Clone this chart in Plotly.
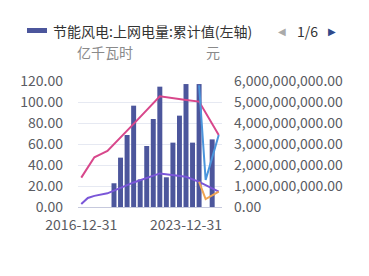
import plotly.graph_objects as go

dates = ["2016-12-31", "2017-12-31", "2018-12-31", "2019-12-31", "2020-12-31",
         "2021-03-31", "2021-06-30", "2021-09-30", "2021-12-31",
         "2022-03-31", "2022-06-30", "2022-09-30", "2022-12-31",
         "2023-03-31", "2023-06-30", "2023-09-30", "2023-12-31",
         "2024-06-30", "2024-12-31", "2025-03-31", "2025-06-30", "2025-09-30"]

# 上网电量 累计值 (亿千瓦时, left axis)
power = [None, None, None, None, None,
         22.6, 47.0, 68.6, 96.5,
         26.3, 58.1, 83.8, 114.6,
         28.3, 61.3, 87.0, 117.1,
         61.3, 117.1, None, 64.4, None]

# right-axis series (元)
revenue_annual = [1.40e9, 1.88e9, 2.37e9, 2.52e9, 2.67e9,
                  None, None, None, 3.96e9,
                  None, None, None, 5.27e9,
                  None, None, None, 5.10e9,
                  None, 5.02e9, None, None, 3.43e9]
profit_annual = [0.14e9, 0.43e9, 0.53e9, 0.60e9, 0.65e9,
                 None, None, None, 1.17e9,
                 None, None, None, 1.60e9,
                 None, None, None, 1.44e9,
                 None, 1.20e9, None, None, 0.73e9]
revenue_q = [None] * 18 + [5.80e9, 1.29e9, 2.35e9, 3.43e9]
profit_q = [None] * 18 + [1.20e9, 0.38e9, 0.55e9, 0.73e9]

left_ticks = [0, 20, 40, 60, 80, 100, 120]
right_ticks = [0, 1e9, 2e9, 3e9, 4e9, 5e9, 6e9]
x_ticks = ["2016-12-31", "2023-12-31"]

FONT = "Noto Sans CJK SC, Liberation Sans, sans-serif"
LABEL = "#5a5c63"

fig = go.Figure()
fig.add_trace(go.Bar(x=dates, y=power, name="节能风电:上网电量:累计值(左轴)",
                     marker=dict(color="#4c569c", line=dict(width=0)), yaxis="y"))
fig.add_trace(go.Scatter(x=dates, y=revenue_annual, mode="lines", connectgaps=True,
                         line=dict(color="#d8478b", width=2), yaxis="y2"))
fig.add_trace(go.Scatter(x=dates, y=profit_annual, mode="lines", connectgaps=True,
                         line=dict(color="#7a56d8", width=2), yaxis="y2"))
fig.add_trace(go.Scatter(x=dates, y=revenue_q, mode="lines", connectgaps=True,
                         line=dict(color="#4b95dc", width=2), yaxis="y2"))
fig.add_trace(go.Scatter(x=dates, y=profit_q, mode="lines", connectgaps=True,
                         line=dict(color="#eea453", width=2), yaxis="y2"))

fig.update_layout(
    width=369, height=276,
    margin=dict(l=78, r=147, t=81, b=69),
    paper_bgcolor="white", plot_bgcolor="white",
    showlegend=False, bargap=0.24,
    font=dict(family=FONT, size=14, color=LABEL),
    xaxis=dict(type="category", categoryorder="array", categoryarray=dates,
               range=[-0.5, len(dates) - 0.5],
               tickmode="array", tickvals=x_ticks, ticktext=x_ticks,
               showgrid=False, showline=True, linecolor="#c6c9dd", linewidth=1,
               ticks="", ticklabelstandoff=5, tickfont=dict(size=14, color=LABEL)),
    yaxis=dict(range=[0, 120], tickmode="array", tickvals=left_ticks,
               tickformat=".2f", showgrid=True, gridcolor="#e6e9f2", gridwidth=1,
               zeroline=False, showline=False, ticks="", ticklabelstandoff=14,
               tickfont=dict(size=14, color=LABEL)),
    yaxis2=dict(range=[0, 6e9], overlaying="y", side="right", tickmode="array",
                tickvals=right_ticks, tickformat=",.2f", showgrid=False,
                zeroline=False, showline=False, ticks="", ticklabelstandoff=11,
                tickfont=dict(size=14, color=LABEL)),
)

# legend (paginated style)
fig.add_shape(type="rect", xref="paper", yref="paper",
              x0=(27 - 78) / 144, x1=(47 - 78) / 144,
              y0=(207 - 33) / 126, y1=(207 - 28) / 126,
              fillcolor="#4c569c", line=dict(width=0))
fig.add_annotation(xref="paper", yref="paper", x=(51 - 78) / 144, y=(207 - 31) / 126,
                   text="节能风电:上网电量:累计值(左轴)", showarrow=False,
                   xanchor="left", yanchor="middle",
                   font=dict(size=14, color="#333333", family=FONT))
fig.add_annotation(xref="paper", yref="paper", x=(282 - 78) / 144, y=(207 - 31) / 126,
                   text="◀", showarrow=False, xanchor="center", yanchor="middle",
                   font=dict(size=10, color="#aaaaaa", family="DejaVu Sans"))
fig.add_annotation(xref="paper", yref="paper", x=(307 - 78) / 144, y=(207 - 31) / 126,
                   text="1/6", showarrow=False, xanchor="center", yanchor="middle",
                   font=dict(size=14, color="#333333", family=FONT))
fig.add_annotation(xref="paper", yref="paper", x=(332 - 78) / 144, y=(207 - 31) / 126,
                   text="▶", showarrow=False, xanchor="center", yanchor="middle",
                   font=dict(size=10, color="#2f4a8a", family="DejaVu Sans"))
# axis names
fig.add_annotation(xref="paper", yref="paper", x=(105 - 78) / 144, y=(207 - 52) / 126,
                   text="亿千瓦时", showarrow=False, xanchor="center", yanchor="middle",
                   font=dict(size=14, color="#8a8a8a", family=FONT))
fig.add_annotation(xref="paper", yref="paper", x=(213 - 78) / 144, y=(207 - 52) / 126,
                   text="元", showarrow=False, xanchor="center", yanchor="middle",
                   font=dict(size=14, color="#8a8a8a", family=FONT))

fig.write_html("out.html")
